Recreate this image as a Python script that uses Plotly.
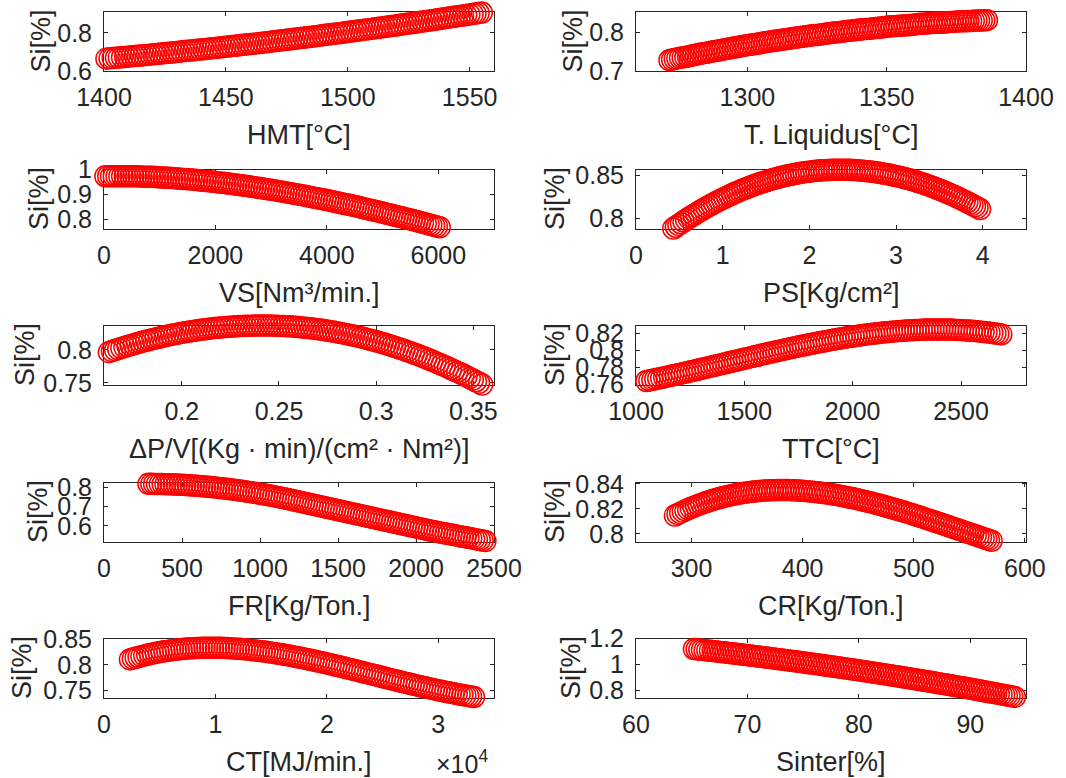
import plotly.graph_objects as go

# ---------------------------------------------------------------- data
hmt_x = [1401.0, 1402.3, 1403.6, 1404.9, 1406.1, 1407.4, 1408.7, 1410.0, 1411.3, 1412.6,
         1413.8, 1415.1, 1416.4, 1417.7, 1419.0, 1420.3, 1421.5, 1422.8, 1424.1, 1425.4,
         1426.7, 1428.0, 1429.2, 1430.5, 1431.8, 1433.1, 1434.4, 1435.7, 1436.9, 1438.2,
         1439.5, 1440.8, 1442.1, 1443.4, 1444.6, 1445.9, 1447.2, 1448.5, 1449.8, 1451.1,
         1452.3, 1453.6, 1454.9, 1456.2, 1457.5, 1458.8, 1460.0, 1461.3, 1462.6, 1463.9,
         1465.2, 1466.5, 1467.7, 1469.0, 1470.3, 1471.6, 1472.9, 1474.2, 1475.4, 1476.7,
         1478.0, 1479.3, 1480.6, 1481.9, 1483.1, 1484.4, 1485.7, 1487.0, 1488.3, 1489.6,
         1490.8, 1492.1, 1493.4, 1494.7, 1496.0, 1497.3, 1498.5, 1499.8, 1501.1, 1502.4,
         1503.7, 1505.0, 1506.2, 1507.5, 1508.8, 1510.1, 1511.4, 1512.7, 1513.9, 1515.2,
         1516.5, 1517.8, 1519.1, 1520.4, 1521.6, 1522.9, 1524.2, 1525.5, 1526.8, 1528.1,
         1529.3, 1530.6, 1531.9, 1533.2, 1534.5, 1535.8, 1537.0, 1538.3, 1539.6, 1540.9,
         1542.2, 1543.5, 1544.7, 1546.0, 1547.3, 1548.6, 1549.9, 1551.2, 1552.4, 1553.7,
         1555.0]
hmt_si = [0.665, 0.6665, 0.668, 0.6695, 0.671, 0.6725, 0.674, 0.6755, 0.677, 0.6785,
          0.680, 0.6815, 0.683, 0.6845, 0.686, 0.6875, 0.689, 0.691, 0.693, 0.6945,
          0.696, 0.6975, 0.699, 0.701, 0.703, 0.7045, 0.706, 0.7075, 0.709, 0.711,
          0.713, 0.7145, 0.716, 0.718, 0.720, 0.7215, 0.723, 0.725, 0.727, 0.729,
          0.731, 0.7325, 0.734, 0.736, 0.738, 0.740, 0.742, 0.7435, 0.745, 0.747,
          0.749, 0.751, 0.753, 0.755, 0.757, 0.759, 0.761, 0.763, 0.765, 0.767,
          0.769, 0.771, 0.773, 0.775, 0.777, 0.779, 0.781, 0.783, 0.785, 0.7875,
          0.790, 0.792, 0.794, 0.796, 0.798, 0.800, 0.802, 0.8045, 0.807, 0.809,
          0.811, 0.8135, 0.816, 0.818, 0.820, 0.8225, 0.825, 0.827, 0.829, 0.8315,
          0.834, 0.836, 0.838, 0.8405, 0.843, 0.8455, 0.848, 0.850, 0.852, 0.8545,
          0.857, 0.8595, 0.862, 0.8645, 0.867, 0.8695, 0.872, 0.8745, 0.877, 0.8795,
          0.882, 0.8845, 0.887, 0.8895, 0.892, 0.8945, 0.897, 0.8995, 0.902, 0.9045,
          0.907]

tliq_x = [1272.00, 1272.95, 1273.90, 1274.85, 1275.80, 1276.75, 1277.70, 1278.65, 1279.60, 1280.55,
          1281.50, 1282.45, 1283.40, 1284.35, 1285.30, 1286.25, 1287.20, 1288.15, 1289.10, 1290.05,
          1291.00, 1291.95, 1292.90, 1293.85, 1294.80, 1295.75, 1296.70, 1297.65, 1298.60, 1299.55,
          1300.50, 1301.45, 1302.40, 1303.35, 1304.30, 1305.25, 1306.20, 1307.15, 1308.10, 1309.05,
          1310.00, 1310.95, 1311.90, 1312.85, 1313.80, 1314.75, 1315.70, 1316.65, 1317.60, 1318.55,
          1319.50, 1320.45, 1321.40, 1322.35, 1323.30, 1324.25, 1325.20, 1326.15, 1327.10, 1328.05,
          1329.00, 1329.95, 1330.90, 1331.85, 1332.80, 1333.75, 1334.70, 1335.65, 1336.60, 1337.55,
          1338.50, 1339.45, 1340.40, 1341.35, 1342.30, 1343.25, 1344.20, 1345.15, 1346.10, 1347.05,
          1348.00, 1348.95, 1349.90, 1350.85, 1351.80, 1352.75, 1353.70, 1354.65, 1355.60, 1356.55,
          1357.50, 1358.45, 1359.40, 1360.35, 1361.30, 1362.25, 1363.20, 1364.15, 1365.10, 1366.05,
          1367.00, 1367.95, 1368.90, 1369.85, 1370.80, 1371.75, 1372.70, 1373.65, 1374.60, 1375.55,
          1376.50, 1377.45, 1378.40, 1379.35, 1380.30, 1381.25, 1382.20, 1383.15, 1384.10, 1385.05,
          1386.00]
tliq_si = [0.728, 0.7295, 0.731, 0.7325, 0.734, 0.735, 0.736, 0.7375, 0.739, 0.7405,
           0.742, 0.7435, 0.745, 0.746, 0.747, 0.7485, 0.750, 0.751, 0.752, 0.7535,
           0.755, 0.756, 0.757, 0.7585, 0.760, 0.761, 0.762, 0.7635, 0.765, 0.766,
           0.767, 0.768, 0.769, 0.770, 0.771, 0.7725, 0.774, 0.775, 0.776, 0.777,
           0.778, 0.779, 0.780, 0.781, 0.782, 0.783, 0.784, 0.785, 0.786, 0.787,
           0.788, 0.789, 0.790, 0.791, 0.792, 0.7925, 0.793, 0.794, 0.795, 0.796,
           0.797, 0.798, 0.799, 0.7995, 0.800, 0.801, 0.802, 0.803, 0.804, 0.8045,
           0.805, 0.806, 0.807, 0.8075, 0.808, 0.8085, 0.809, 0.810, 0.811, 0.8115,
           0.812, 0.813, 0.814, 0.8145, 0.815, 0.8155, 0.816, 0.8165, 0.817, 0.8175,
           0.818, 0.8185, 0.819, 0.820, 0.821, 0.8215, 0.822, 0.8225, 0.823, 0.8235,
           0.824, 0.824, 0.824, 0.8245, 0.825, 0.8255, 0.826, 0.8265, 0.827, 0.8275,
           0.828, 0.828, 0.828, 0.8285, 0.829, 0.8295, 0.830, 0.830, 0.830, 0.8305,
           0.831]

vs_x = [25, 75, 125, 175, 225, 275, 325, 375, 425, 475,
        525, 575, 625, 675, 725, 775, 825, 875, 925, 975,
        1025, 1075, 1125, 1175, 1225, 1275, 1325, 1375, 1425, 1475,
        1525, 1575, 1625, 1675, 1725, 1775, 1825, 1875, 1925, 1975,
        2025, 2075, 2125, 2175, 2225, 2275, 2325, 2375, 2425, 2475,
        2525, 2575, 2625, 2675, 2725, 2775, 2825, 2875, 2925, 2975,
        3025, 3075, 3125, 3175, 3225, 3275, 3325, 3375, 3425, 3475,
        3525, 3575, 3625, 3675, 3725, 3775, 3825, 3875, 3925, 3975,
        4025, 4075, 4125, 4175, 4225, 4275, 4325, 4375, 4425, 4475,
        4525, 4575, 4625, 4675, 4725, 4775, 4825, 4875, 4925, 4975,
        5025, 5075, 5125, 5175, 5225, 5275, 5325, 5375, 5425, 5475,
        5525, 5575, 5625, 5675, 5725, 5775, 5825, 5875, 5925, 5975,
        6025]
vs_si = [0.973, 0.973, 0.973, 0.973, 0.973, 0.973, 0.973, 0.973, 0.973, 0.973,
         0.973, 0.9725, 0.972, 0.9715, 0.971, 0.971, 0.971, 0.9705, 0.970, 0.969,
         0.968, 0.9675, 0.967, 0.9665, 0.966, 0.965, 0.964, 0.963, 0.962, 0.9615,
         0.961, 0.960, 0.959, 0.9575, 0.956, 0.955, 0.954, 0.953, 0.952, 0.9505,
         0.949, 0.948, 0.947, 0.9455, 0.944, 0.9425, 0.941, 0.9395, 0.938, 0.9365,
         0.935, 0.9335, 0.932, 0.930, 0.928, 0.9265, 0.925, 0.923, 0.921, 0.9195,
         0.918, 0.916, 0.914, 0.912, 0.910, 0.908, 0.906, 0.904, 0.902, 0.900,
         0.898, 0.896, 0.894, 0.8915, 0.889, 0.887, 0.885, 0.8825, 0.880, 0.878,
         0.876, 0.8735, 0.871, 0.8685, 0.866, 0.8635, 0.861, 0.859, 0.857, 0.8545,
         0.852, 0.849, 0.846, 0.8435, 0.841, 0.8385, 0.836, 0.8335, 0.831, 0.828,
         0.825, 0.8225, 0.820, 0.817, 0.814, 0.8115, 0.809, 0.806, 0.803, 0.8005,
         0.798, 0.795, 0.792, 0.789, 0.786, 0.783, 0.780, 0.777, 0.774, 0.771,
         0.768]

ps_x = [0.4300, 0.4595, 0.4890, 0.5185, 0.5480, 0.5775, 0.6070, 0.6365, 0.6660, 0.6955,
        0.7250, 0.7545, 0.7840, 0.8135, 0.8430, 0.8725, 0.9020, 0.9315, 0.9610, 0.9905,
        1.0200, 1.0495, 1.0790, 1.1085, 1.1380, 1.1675, 1.1970, 1.2265, 1.2560, 1.2855,
        1.3150, 1.3445, 1.3740, 1.4035, 1.4330, 1.4625, 1.4920, 1.5215, 1.5510, 1.5805,
        1.6100, 1.6395, 1.6690, 1.6985, 1.7280, 1.7575, 1.7870, 1.8165, 1.8460, 1.8755,
        1.9050, 1.9345, 1.9640, 1.9935, 2.0230, 2.0525, 2.0820, 2.1115, 2.1410, 2.1705,
        2.2000, 2.2295, 2.2590, 2.2885, 2.3180, 2.3475, 2.3770, 2.4065, 2.4360, 2.4655,
        2.4950, 2.5245, 2.5540, 2.5835, 2.6130, 2.6425, 2.6720, 2.7015, 2.7310, 2.7605,
        2.7900, 2.8195, 2.8490, 2.8785, 2.9080, 2.9375, 2.9670, 2.9965, 3.0260, 3.0555,
        3.0850, 3.1145, 3.1440, 3.1735, 3.2030, 3.2325, 3.2620, 3.2915, 3.3210, 3.3505,
        3.3800, 3.4095, 3.4390, 3.4685, 3.4980, 3.5275, 3.5570, 3.5865, 3.6160, 3.6455,
        3.6750, 3.7045, 3.7340, 3.7635, 3.7930, 3.8225, 3.8520, 3.8815, 3.9110, 3.9405,
        3.9700]
ps_si = [0.7880, 0.7901, 0.7922, 0.7942, 0.7962, 0.7982, 0.8001, 0.8020, 0.8038, 0.8056,
         0.8074, 0.8092, 0.8109, 0.8126, 0.8143, 0.8159, 0.8175, 0.8191, 0.8207, 0.8222,
         0.8236, 0.8251, 0.8265, 0.8279, 0.8292, 0.8305, 0.8318, 0.8331, 0.8343, 0.8355,
         0.8366, 0.8377, 0.8388, 0.8399, 0.8409, 0.8419, 0.8428, 0.8437, 0.8446, 0.8455,
         0.8463, 0.8471, 0.8479, 0.8486, 0.8493, 0.8500, 0.8506, 0.8512, 0.8518, 0.8523,
         0.8528, 0.8533, 0.8537, 0.8541, 0.8545, 0.8549, 0.8552, 0.8555, 0.8557, 0.8559,
         0.8561, 0.8562, 0.8563, 0.8564, 0.8565, 0.8565, 0.8565, 0.8565, 0.8564, 0.8563,
         0.8561, 0.8560, 0.8558, 0.8556, 0.8553, 0.8550, 0.8547, 0.8544, 0.8540, 0.8536,
         0.8531, 0.8526, 0.8521, 0.8516, 0.8511, 0.8505, 0.8498, 0.8492, 0.8485, 0.8478,
         0.8471, 0.8463, 0.8455, 0.8447, 0.8438, 0.8429, 0.8419, 0.8410, 0.8400, 0.8390,
         0.8379, 0.8368, 0.8357, 0.8346, 0.8334, 0.8322, 0.8310, 0.8297, 0.8284, 0.8271,
         0.8258, 0.8244, 0.8230, 0.8216, 0.8201, 0.8186, 0.8170, 0.8155, 0.8139, 0.8123,
         0.8106]

dpv_x = [0.1625, 0.1641, 0.1657, 0.1673, 0.1689, 0.1705, 0.1721, 0.1737, 0.1753, 0.1769,
         0.1785, 0.1801, 0.1817, 0.1833, 0.1849, 0.1865, 0.1881, 0.1897, 0.1913, 0.1929,
         0.1945, 0.1961, 0.1977, 0.1993, 0.2009, 0.2025, 0.2041, 0.2057, 0.2073, 0.2089,
         0.2105, 0.2121, 0.2137, 0.2153, 0.2169, 0.2185, 0.2201, 0.2217, 0.2233, 0.2249,
         0.2265, 0.2281, 0.2297, 0.2313, 0.2329, 0.2345, 0.2361, 0.2377, 0.2393, 0.2409,
         0.2425, 0.2441, 0.2457, 0.2473, 0.2489, 0.2505, 0.2521, 0.2537, 0.2553, 0.2569,
         0.2585, 0.2601, 0.2617, 0.2633, 0.2649, 0.2665, 0.2681, 0.2697, 0.2713, 0.2729,
         0.2745, 0.2761, 0.2777, 0.2793, 0.2809, 0.2825, 0.2841, 0.2857, 0.2873, 0.2889,
         0.2905, 0.2921, 0.2937, 0.2953, 0.2969, 0.2985, 0.3001, 0.3017, 0.3033, 0.3049,
         0.3065, 0.3081, 0.3097, 0.3113, 0.3129, 0.3145, 0.3161, 0.3177, 0.3193, 0.3209,
         0.3225, 0.3241, 0.3257, 0.3273, 0.3289, 0.3305, 0.3321, 0.3337, 0.3353, 0.3369,
         0.3385, 0.3401, 0.3417, 0.3433, 0.3449, 0.3465, 0.3481, 0.3497, 0.3513, 0.3529,
         0.3545]
dpv_si = [0.7964, 0.7980, 0.7996, 0.8012, 0.8027, 0.8042, 0.8056, 0.8070, 0.8084, 0.8098,
          0.8111, 0.8124, 0.8137, 0.8149, 0.8161, 0.8172, 0.8183, 0.8194, 0.8205, 0.8215,
          0.8225, 0.8235, 0.8244, 0.8253, 0.8261, 0.8270, 0.8278, 0.8285, 0.8292, 0.8299,
          0.8306, 0.8312, 0.8318, 0.8324, 0.8329, 0.8334, 0.8338, 0.8343, 0.8347, 0.8350,
          0.8353, 0.8356, 0.8359, 0.8361, 0.8363, 0.8365, 0.8366, 0.8367, 0.8368, 0.8368,
          0.8368, 0.8368, 0.8367, 0.8366, 0.8364, 0.8362, 0.8360, 0.8358, 0.8355, 0.8352,
          0.8348, 0.8344, 0.8339, 0.8335, 0.8330, 0.8325, 0.8319, 0.8313, 0.8306, 0.8299,
          0.8292, 0.8284, 0.8276, 0.8268, 0.8259, 0.8250, 0.8241, 0.8231, 0.8221, 0.8211,
          0.8200, 0.8189, 0.8177, 0.8165, 0.8153, 0.8141, 0.8128, 0.8115, 0.8101, 0.8087,
          0.8072, 0.8057, 0.8042, 0.8027, 0.8011, 0.7995, 0.7978, 0.7961, 0.7944, 0.7927,
          0.7909, 0.7891, 0.7872, 0.7853, 0.7833, 0.7813, 0.7793, 0.7773, 0.7752, 0.7731,
          0.7709, 0.7687, 0.7665, 0.7643, 0.7620, 0.7597, 0.7573, 0.7549, 0.7524, 0.7499,
          0.7474]

ttc_x = [1048.00, 1061.65, 1075.30, 1088.95, 1102.60, 1116.25, 1129.90, 1143.55, 1157.20, 1170.85,
         1184.50, 1198.15, 1211.80, 1225.45, 1239.10, 1252.75, 1266.40, 1280.05, 1293.70, 1307.35,
         1321.00, 1334.65, 1348.30, 1361.95, 1375.60, 1389.25, 1402.90, 1416.55, 1430.20, 1443.85,
         1457.50, 1471.15, 1484.80, 1498.45, 1512.10, 1525.75, 1539.40, 1553.05, 1566.70, 1580.35,
         1594.00, 1607.65, 1621.30, 1634.95, 1648.60, 1662.25, 1675.90, 1689.55, 1703.20, 1716.85,
         1730.50, 1744.15, 1757.80, 1771.45, 1785.10, 1798.75, 1812.40, 1826.05, 1839.70, 1853.35,
         1867.00, 1880.65, 1894.30, 1907.95, 1921.60, 1935.25, 1948.90, 1962.55, 1976.20, 1989.85,
         2003.50, 2017.15, 2030.80, 2044.45, 2058.10, 2071.75, 2085.40, 2099.05, 2112.70, 2126.35,
         2140.00, 2153.65, 2167.30, 2180.95, 2194.60, 2208.25, 2221.90, 2235.55, 2249.20, 2262.85,
         2276.50, 2290.15, 2303.80, 2317.45, 2331.10, 2344.75, 2358.40, 2372.05, 2385.70, 2399.35,
         2413.00, 2426.65, 2440.30, 2453.95, 2467.60, 2481.25, 2494.90, 2508.55, 2522.20, 2535.85,
         2549.50, 2563.15, 2576.80, 2590.45, 2604.10, 2617.75, 2631.40, 2645.05, 2658.70, 2672.35,
         2686.00]
ttc_si = [0.7635, 0.7642, 0.7649, 0.7657, 0.7664, 0.7672, 0.7679, 0.7687, 0.7695, 0.7703,
          0.7710, 0.7718, 0.7726, 0.7734, 0.7742, 0.7750, 0.7758, 0.7767, 0.7775, 0.7783,
          0.7791, 0.7800, 0.7808, 0.7816, 0.7824, 0.7833, 0.7841, 0.7850, 0.7858, 0.7866,
          0.7874, 0.7883, 0.7891, 0.7899, 0.7907, 0.7916, 0.7924, 0.7932, 0.7940, 0.7949,
          0.7957, 0.7965, 0.7973, 0.7981, 0.7988, 0.7996, 0.8004, 0.8012, 0.8020, 0.8028,
          0.8035, 0.8043, 0.8050, 0.8057, 0.8064, 0.8071, 0.8078, 0.8085, 0.8092, 0.8099,
          0.8105, 0.8112, 0.8118, 0.8125, 0.8131, 0.8137, 0.8143, 0.8149, 0.8154, 0.8160,
          0.8165, 0.8171, 0.8176, 0.8181, 0.8186, 0.8191, 0.8195, 0.8199, 0.8203, 0.8207,
          0.8211, 0.8215, 0.8218, 0.8222, 0.8225, 0.8228, 0.8231, 0.8234, 0.8236, 0.8238,
          0.8240, 0.8242, 0.8243, 0.8245, 0.8246, 0.8247, 0.8247, 0.8248, 0.8248, 0.8248,
          0.8248, 0.8248, 0.8247, 0.8246, 0.8245, 0.8243, 0.8241, 0.8239, 0.8237, 0.8235,
          0.8232, 0.8229, 0.8226, 0.8222, 0.8218, 0.8214, 0.8210, 0.8205, 0.8200, 0.8195,
          0.8189]

fr_x = [285.00, 303.15, 321.30, 339.45, 357.60, 375.75, 393.90, 412.05, 430.20, 448.35,
        466.50, 484.65, 502.80, 520.95, 539.10, 557.25, 575.40, 593.55, 611.70, 629.85,
        648.00, 666.15, 684.30, 702.45, 720.60, 738.75, 756.90, 775.05, 793.20, 811.35,
        829.50, 847.65, 865.80, 883.95, 902.10, 920.25, 938.40, 956.55, 974.70, 992.85,
        1011.00, 1029.15, 1047.30, 1065.45, 1083.60, 1101.75, 1119.90, 1138.05, 1156.20, 1174.35,
        1192.50, 1210.65, 1228.80, 1246.95, 1265.10, 1283.25, 1301.40, 1319.55, 1337.70, 1355.85,
        1374.00, 1392.15, 1410.30, 1428.45, 1446.60, 1464.75, 1482.90, 1501.05, 1519.20, 1537.35,
        1555.50, 1573.65, 1591.80, 1609.95, 1628.10, 1646.25, 1664.40, 1682.55, 1700.70, 1718.85,
        1737.00, 1755.15, 1773.30, 1791.45, 1809.60, 1827.75, 1845.90, 1864.05, 1882.20, 1900.35,
        1918.50, 1936.65, 1954.80, 1972.95, 1991.10, 2009.25, 2027.40, 2045.55, 2063.70, 2081.85,
        2100.00, 2118.15, 2136.30, 2154.45, 2172.60, 2190.75, 2208.90, 2227.05, 2245.20, 2263.35,
        2281.50, 2299.65, 2317.80, 2335.95, 2354.10, 2372.25, 2390.40, 2408.55, 2426.70, 2444.85,
        2463.00]
fr_si = [0.8190, 0.8189, 0.8187, 0.8185, 0.8182, 0.8179, 0.8175, 0.8170, 0.8165, 0.8159,
         0.8152, 0.8145, 0.8137, 0.8128, 0.8119, 0.8109, 0.8099, 0.8088, 0.8077, 0.8064,
         0.8051, 0.8038, 0.8024, 0.8009, 0.7993, 0.7977, 0.7961, 0.7943, 0.7925, 0.7907,
         0.7888, 0.7868, 0.7847, 0.7826, 0.7804, 0.7782, 0.7759, 0.7735, 0.7711, 0.7686,
         0.7661, 0.7635, 0.7608, 0.7580, 0.7552, 0.7523, 0.7494, 0.7464, 0.7434, 0.7403,
         0.7371, 0.7339, 0.7306, 0.7274, 0.7241, 0.7209, 0.7176, 0.7144, 0.7111, 0.7079,
         0.7046, 0.7014, 0.6981, 0.6949, 0.6916, 0.6884, 0.6851, 0.6819, 0.6786, 0.6754,
         0.6721, 0.6689, 0.6656, 0.6624, 0.6591, 0.6559, 0.6526, 0.6494, 0.6461, 0.6429,
         0.6396, 0.6364, 0.6331, 0.6299, 0.6266, 0.6234, 0.6201, 0.6169, 0.6136, 0.6104,
         0.6071, 0.6039, 0.6006, 0.5974, 0.5941, 0.5909, 0.5876, 0.5844, 0.5811, 0.5779,
         0.5746, 0.5718, 0.5690, 0.5662, 0.5634, 0.5606, 0.5578, 0.5550, 0.5522, 0.5494,
         0.5466, 0.5438, 0.5410, 0.5382, 0.5354, 0.5326, 0.5298, 0.5270, 0.5242, 0.5214,
         0.5186]

cr_x = [285.000, 287.375, 289.750, 292.125, 294.500, 296.875, 299.250, 301.625, 304.000, 306.375,
        308.750, 311.125, 313.500, 315.875, 318.250, 320.625, 323.000, 325.375, 327.750, 330.125,
        332.500, 334.875, 337.250, 339.625, 342.000, 344.375, 346.750, 349.125, 351.500, 353.875,
        356.250, 358.625, 361.000, 363.375, 365.750, 368.125, 370.500, 372.875, 375.250, 377.625,
        380.000, 382.375, 384.750, 387.125, 389.500, 391.875, 394.250, 396.625, 399.000, 401.375,
        403.750, 406.125, 408.500, 410.875, 413.250, 415.625, 418.000, 420.375, 422.750, 425.125,
        427.500, 429.875, 432.250, 434.625, 437.000, 439.375, 441.750, 444.125, 446.500, 448.875,
        451.250, 453.625, 456.000, 458.375, 460.750, 463.125, 465.500, 467.875, 470.250, 472.625,
        475.000, 477.375, 479.750, 482.125, 484.500, 486.875, 489.250, 491.625, 494.000, 496.375,
        498.750, 501.125, 503.500, 505.875, 508.250, 510.625, 513.000, 515.375, 517.750, 520.125,
        522.500, 524.875, 527.250, 529.625, 532.000, 534.375, 536.750, 539.125, 541.500, 543.875,
        546.250, 548.625, 551.000, 553.375, 555.750, 558.125, 560.500, 562.875, 565.250, 567.625,
        570.000]
cr_si = [0.8146, 0.8157, 0.8167, 0.8177, 0.8187, 0.8197, 0.8206, 0.8215, 0.8223, 0.8231,
         0.8239, 0.8247, 0.8254, 0.8261, 0.8268, 0.8274, 0.8280, 0.8286, 0.8292, 0.8297,
         0.8302, 0.8307, 0.8311, 0.8316, 0.8320, 0.8324, 0.8327, 0.8330, 0.8333, 0.8336,
         0.8338, 0.8340, 0.8342, 0.8344, 0.8346, 0.8347, 0.8348, 0.8349, 0.8349, 0.8350,
         0.8350, 0.8350, 0.8350, 0.8350, 0.8349, 0.8348, 0.8347, 0.8346, 0.8344, 0.8343,
         0.8341, 0.8339, 0.8337, 0.8335, 0.8332, 0.8330, 0.8327, 0.8324, 0.8321, 0.8318,
         0.8314, 0.8311, 0.8307, 0.8303, 0.8299, 0.8295, 0.8290, 0.8286, 0.8282, 0.8277,
         0.8272, 0.8267, 0.8262, 0.8257, 0.8252, 0.8247, 0.8241, 0.8236, 0.8230, 0.8224,
         0.8218, 0.8212, 0.8206, 0.8200, 0.8194, 0.8188, 0.8182, 0.8176, 0.8169, 0.8163,
         0.8156, 0.8149, 0.8142, 0.8136, 0.8129, 0.8122, 0.8115, 0.8108, 0.8101, 0.8094,
         0.8087, 0.8080, 0.8073, 0.8066, 0.8058, 0.8051, 0.8044, 0.8037, 0.8030, 0.8023,
         0.8015, 0.8008, 0.8001, 0.7994, 0.7987, 0.7980, 0.7972, 0.7965, 0.7958, 0.7951,
         0.7944]

ct_x = [2330.00, 2587.25, 2844.50, 3101.75, 3359.00, 3616.25, 3873.50, 4130.75, 4388.00, 4645.25,
        4902.50, 5159.75, 5417.00, 5674.25, 5931.50, 6188.75, 6446.00, 6703.25, 6960.50, 7217.75,
        7475.00, 7732.25, 7989.50, 8246.75, 8504.00, 8761.25, 9018.50, 9275.75, 9533.00, 9790.25,
        10047.50, 10304.75, 10562.00, 10819.25, 11076.50, 11333.75, 11591.00, 11848.25, 12105.50, 12362.75,
        12620.00, 12877.25, 13134.50, 13391.75, 13649.00, 13906.25, 14163.50, 14420.75, 14678.00, 14935.25,
        15192.50, 15449.75, 15707.00, 15964.25, 16221.50, 16478.75, 16736.00, 16993.25, 17250.50, 17507.75,
        17765.00, 18022.25, 18279.50, 18536.75, 18794.00, 19051.25, 19308.50, 19565.75, 19823.00, 20080.25,
        20337.50, 20594.75, 20852.00, 21109.25, 21366.50, 21623.75, 21881.00, 22138.25, 22395.50, 22652.75,
        22910.00, 23167.25, 23424.50, 23681.75, 23939.00, 24196.25, 24453.50, 24710.75, 24968.00, 25225.25,
        25482.50, 25739.75, 25997.00, 26254.25, 26511.50, 26768.75, 27026.00, 27283.25, 27540.50, 27797.75,
        28055.00, 28312.25, 28569.50, 28826.75, 29084.00, 29341.25, 29598.50, 29855.75, 30113.00, 30370.25,
        30627.50, 30884.75, 31142.00, 31399.25, 31656.50, 31913.75, 32171.00, 32428.25, 32685.50, 32942.75,
        33200.00]
ct_si = [0.8105, 0.8122, 0.8138, 0.8153, 0.8168, 0.8182, 0.8195, 0.8208, 0.8220, 0.8231,
         0.8242, 0.8252, 0.8261, 0.8270, 0.8278, 0.8286, 0.8293, 0.8299, 0.8305, 0.8310,
         0.8315, 0.8319, 0.8322, 0.8325, 0.8327, 0.8329, 0.8331, 0.8332, 0.8332, 0.8332,
         0.8331, 0.8330, 0.8329, 0.8327, 0.8324, 0.8321, 0.8318, 0.8314, 0.8310, 0.8306,
         0.8301, 0.8295, 0.8289, 0.8283, 0.8277, 0.8270, 0.8263, 0.8256, 0.8248, 0.8240,
         0.8231, 0.8222, 0.8213, 0.8204, 0.8194, 0.8184, 0.8174, 0.8164, 0.8153, 0.8142,
         0.8131, 0.8120, 0.8109, 0.8097, 0.8085, 0.8073, 0.8061, 0.8049, 0.8036, 0.8023,
         0.8010, 0.7997, 0.7984, 0.7971, 0.7957, 0.7944, 0.7930, 0.7917, 0.7903, 0.7890,
         0.7876, 0.7862, 0.7848, 0.7834, 0.7820, 0.7806, 0.7792, 0.7779, 0.7765, 0.7751,
         0.7737, 0.7723, 0.7709, 0.7696, 0.7682, 0.7669, 0.7655, 0.7642, 0.7628, 0.7615,
         0.7602, 0.7589, 0.7576, 0.7564, 0.7551, 0.7539, 0.7527, 0.7515, 0.7503, 0.7492,
         0.7480, 0.7469, 0.7458, 0.7448, 0.7437, 0.7427, 0.7416, 0.7407, 0.7397, 0.7388,
         0.7379]

sinter_x = [65.20, 65.44, 65.68, 65.92, 66.16, 66.40, 66.64, 66.88, 67.12, 67.36,
            67.60, 67.84, 68.08, 68.32, 68.56, 68.80, 69.04, 69.28, 69.52, 69.76,
            70.00, 70.24, 70.48, 70.72, 70.96, 71.20, 71.44, 71.68, 71.92, 72.16,
            72.40, 72.64, 72.88, 73.12, 73.36, 73.60, 73.84, 74.08, 74.32, 74.56,
            74.80, 75.04, 75.28, 75.52, 75.76, 76.00, 76.24, 76.48, 76.72, 76.96,
            77.20, 77.44, 77.68, 77.92, 78.16, 78.40, 78.64, 78.88, 79.12, 79.36,
            79.60, 79.84, 80.08, 80.32, 80.56, 80.80, 81.04, 81.28, 81.52, 81.76,
            82.00, 82.24, 82.48, 82.72, 82.96, 83.20, 83.44, 83.68, 83.92, 84.16,
            84.40, 84.64, 84.88, 85.12, 85.36, 85.60, 85.84, 86.08, 86.32, 86.56,
            86.80, 87.04, 87.28, 87.52, 87.76, 88.00, 88.24, 88.48, 88.72, 88.96,
            89.20, 89.44, 89.68, 89.92, 90.16, 90.40, 90.64, 90.88, 91.12, 91.36,
            91.60, 91.84, 92.08, 92.32, 92.56, 92.80, 93.04, 93.28, 93.52, 93.76,
            94.00]
sinter_si = [1.1190, 1.1167, 1.1144, 1.1121, 1.1098, 1.1075, 1.1052, 1.1028, 1.1004, 1.0981,
             1.0957, 1.0933, 1.0908, 1.0884, 1.0859, 1.0835, 1.0810, 1.0785, 1.0760, 1.0735,
             1.0709, 1.0684, 1.0658, 1.0633, 1.0607, 1.0581, 1.0554, 1.0528, 1.0502, 1.0475,
             1.0448, 1.0421, 1.0394, 1.0367, 1.0340, 1.0313, 1.0285, 1.0257, 1.0229, 1.0201,
             1.0173, 1.0145, 1.0117, 1.0088, 1.0059, 1.0031, 1.0002, 0.9973, 0.9943, 0.9914,
             0.9885, 0.9855, 0.9825, 0.9795, 0.9765, 0.9735, 0.9705, 0.9675, 0.9644, 0.9613,
             0.9582, 0.9551, 0.9520, 0.9489, 0.9457, 0.9426, 0.9394, 0.9362, 0.9330, 0.9298,
             0.9265, 0.9233, 0.9200, 0.9168, 0.9135, 0.9102, 0.9069, 0.9036, 0.9002, 0.8969,
             0.8935, 0.8901, 0.8867, 0.8833, 0.8799, 0.8765, 0.8730, 0.8696, 0.8661, 0.8626,
             0.8591, 0.8556, 0.8520, 0.8485, 0.8449, 0.8414, 0.8378, 0.8342, 0.8305, 0.8269,
             0.8233, 0.8197, 0.8160, 0.8123, 0.8086, 0.8049, 0.8011, 0.7974, 0.7936, 0.7899,
             0.7861, 0.7823, 0.7785, 0.7747, 0.7708, 0.7670, 0.7631, 0.7592, 0.7553, 0.7514,
             0.7475]

# axis titles
x_titles = ["HMT[°C]", "T. Liquidus[°C]", "VS[Nm³/min.]", "PS[Kg/cm²]",
            "ΔP/V[(Kg · min)/(cm² · Nm²)]", "TTC[°C]", "FR[Kg/Ton.]", "CR[Kg/Ton.]",
            "CT[MJ/min.]", "Sinter[%]"]
y_title = "Si[%]"

# tick values / labels
x_ticks = [[1400, 1450, 1500, 1550], [1300, 1350, 1400], [0, 2000, 4000, 6000],
           [0, 1, 2, 3, 4], [0.2, 0.25, 0.3, 0.35], [1000, 1500, 2000, 2500],
           [0, 500, 1000, 1500, 2000, 2500], [300, 400, 500, 600],
           [0, 10000, 20000, 30000], [60, 70, 80, 90]]
x_tick_text = [["1400", "1450", "1500", "1550"], ["1300", "1350", "1400"],
               ["0", "2000", "4000", "6000"], ["0", "1", "2", "3", "4"],
               ["0.2", "0.25", "0.3", "0.35"], ["1000", "1500", "2000", "2500"],
               ["0", "500", "1000", "1500", "2000", "2500"], ["300", "400", "500", "600"],
               ["0", "1", "2", "3"], ["60", "70", "80", "90"]]
y_ticks = [[0.6, 0.8], [0.7, 0.8], [0.8, 0.9, 1.0], [0.8, 0.85], [0.75, 0.8],
           [0.76, 0.78, 0.8, 0.82], [0.6, 0.7, 0.8], [0.8, 0.82, 0.84],
           [0.75, 0.8, 0.85], [0.8, 1.0, 1.2]]
y_tick_text = [["0.6", "0.8"], ["0.7", "0.8"], ["0.8", "0.9", "1"], ["0.8", "0.85"],
               ["0.75", "0.8"], ["0.76", "0.78", "0.8", "0.82"], ["0.6", "0.7", "0.8"],
               ["0.8", "0.82", "0.84"], ["0.75", "0.8", "0.85"], ["0.8", "1", "1.2"]]
ct_multiplier = "×10<sup>4</sup>"

series_x = [hmt_x, tliq_x, vs_x, ps_x, dpv_x, ttc_x, fr_x, cr_x, ct_x, sinter_x]
series_y = [hmt_si, tliq_si, vs_si, ps_si, dpv_si, ttc_si, fr_si, cr_si, ct_si, sinter_si]

# ---------------------------------------------------------------- layout constants
W, H = 1066, 778
FONT = "Liberation Sans, Arial, Helvetica, sans-serif"
INK = "#262626"
TICK_SIZE = 25
LABEL_SIZE = 27

x_ranges = [[1400, 1560], [1260, 1400], [0, 7000], [0, 4.5], [0.16, 0.3606],
            [1000, 2800], [0, 2500], [250, 601], [0, 35000], [60, 95]]
y_ranges = [[0.6, 0.91], [0.7, 0.852], [0.763, 1.0], [0.788, 0.8567], [0.7474, 0.8368],
            [0.7594, 0.8295], [0.519, 0.826], [0.7938, 0.841], [0.7368, 0.851], [0.743, 1.2]]

col_px = [(104, 494), (636, 1026)]          # left/right edges of plot areas
row_top_px = [12, 169.5, 325.5, 482.5, 638.5]
row_h_px = 59
ylabel_x_px = [[40, 572], [39, 555], [25, 555], [38, 555], [22, 571]]

fig = go.Figure()
annotations = []
layout_axes = {}

for i in range(10):
    row, col = divmod(i, 2)
    n = i + 1
    xa = "xaxis" if n == 1 else f"xaxis{n}"
    ya = "yaxis" if n == 1 else f"yaxis{n}"
    xref = "x" if n == 1 else f"x{n}"
    yref = "y" if n == 1 else f"y{n}"

    left, right = col_px[col]
    top = row_top_px[row]
    bottom = top + row_h_px

    npts = min(len(series_x[i]), len(series_y[i]))
    fig.add_trace(go.Scatter(
        x=series_x[i][:npts], y=series_y[i][:npts], mode="markers",
        marker=dict(symbol="circle-open", size=21, color="#ff0000",
                    line=dict(width=1.5, color="#ff0000")),
        cliponaxis=False, showlegend=False, hoverinfo="x+y",
        xaxis=xref, yaxis=yref))

    common = dict(showline=True, linecolor=INK, linewidth=1, mirror="allticks",
                  ticks="inside", ticklen=4, tickwidth=1, tickcolor=INK,
                  showgrid=False, zeroline=False, automargin=False,
                  layer="below traces",
                  tickfont=dict(family=FONT, size=TICK_SIZE, color=INK))
    layout_axes[xa] = dict(common, domain=[left / W, right / W], range=x_ranges[i],
                           tickmode="array", tickvals=x_ticks[i], ticktext=x_tick_text[i],
                           anchor=yref, ticklabelstandoff=4)
    layout_axes[ya] = dict(common, domain=[1 - bottom / H, 1 - top / H], range=y_ranges[i],
                           tickmode="array", tickvals=y_ticks[i], ticktext=y_tick_text[i],
                           anchor=xref, ticklabelstandoff=6)

    # x title under the axis
    annotations.append(dict(text=x_titles[i], x=(left + right) / 2 / W,
                            y=1 - (bottom + 64) / H, xref="paper", yref="paper",
                            xanchor="center", yanchor="middle", showarrow=False,
                            font=dict(family=FONT, size=LABEL_SIZE, color=INK)))
    # rotated y title
    annotations.append(dict(text=y_title, x=ylabel_x_px[row][col] / W,
                            y=1 - (top + row_h_px / 2) / H, xref="paper", yref="paper",
                            xanchor="center", yanchor="middle", textangle=-90,
                            showarrow=False,
                            font=dict(family=FONT, size=LABEL_SIZE, color=INK)))

# exponent marker for the CT axis
annotations.append(dict(text=ct_multiplier, x=462 / W, y=1 - 762 / H,
                        xref="paper", yref="paper", xanchor="center", yanchor="middle",
                        showarrow=False, font=dict(family=FONT, size=25, color=INK)))

fig.update_layout(
    width=W, height=H, autosize=False,
    margin=dict(l=0, r=0, t=0, b=0),
    paper_bgcolor="white", plot_bgcolor="white",
    annotations=annotations,
    **layout_axes,
)

fig.write_html("out.html")
